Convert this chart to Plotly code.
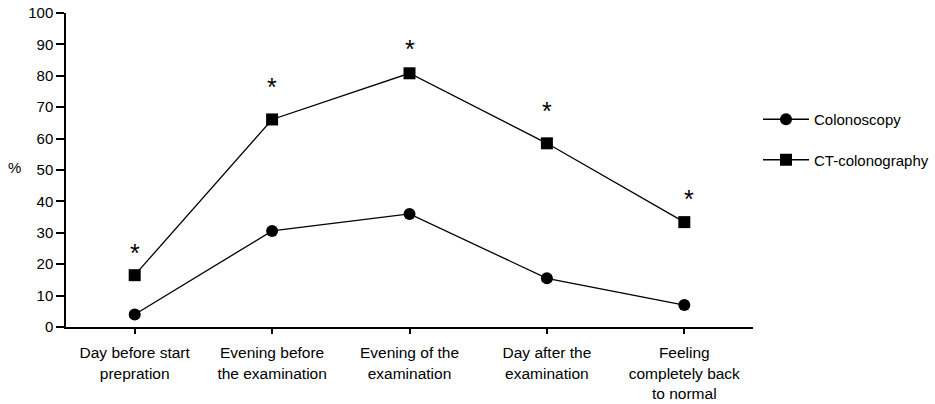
import plotly.graph_objects as go

# Time points of the questionnaire
categories = [
    "Day before start<br>prepration",
    "Evening before<br>the examination",
    "Evening of the<br>examination",
    "Day after the<br>examination",
    "Feeling<br>completely back<br>to normal",
]

# Percentage of patients per time point
colonoscopy = [4.0, 30.6, 36.0, 15.5, 7.0]
ct_colonography = [16.5, 66.1, 80.8, 58.5, 33.4]

# Significance flags shown above the CT-colonography points
significant = [True, True, True, True, True]

y_ticks = list(range(0, 101, 10))

FONT = "Liberation Sans, Arial, sans-serif"

fig = go.Figure()

fig.add_trace(go.Scatter(
    x=categories, y=colonoscopy, name="Colonoscopy",
    mode="lines+markers", legendgroup="a",
    line=dict(color="black", width=1.3),
    marker=dict(symbol="circle", size=12, color="black"),
))
fig.add_trace(go.Scatter(
    x=categories, y=ct_colonography, name="CT-colonography",
    mode="lines+markers", legendgroup="b",
    line=dict(color="black", width=1.3),
    marker=dict(symbol="square", size=12, color="black"),
))

# Asterisks placed above the CT-colonography markers
star_shift = [22, 32, 24, 32, 23]
star_xshift = [0, 0, 0, 0, 5]
for i, (cat, val, sig) in enumerate(zip(categories, ct_colonography, significant)):
    if sig:
        fig.add_annotation(
            x=cat, y=val, text="*", showarrow=False,
            yshift=star_shift[i], xshift=star_xshift[i],
            font=dict(family=FONT, size=25, color="black"),
        )

# Axis title on the left
fig.add_annotation(
    xref="paper", yref="paper", x=0, y=0.5, xshift=-52, yshift=3,
    text="%", showarrow=False, xanchor="center",
    font=dict(family=FONT, size=15, color="black"),
)

fig.update_layout(
    width=935, height=404,
    margin=dict(l=66, r=182, t=13, b=77, autoexpand=False),
    paper_bgcolor="white", plot_bgcolor="white",
    font=dict(family=FONT, size=14, color="black"),
    showlegend=True,
    legend=dict(
        xref="container", yref="container",
        x=758 / 935, y=1 - 103 / 404, xanchor="left", yanchor="top",
        font=dict(family=FONT, size=15, color="black"),
        itemwidth=46, tracegroupgap=18, traceorder="grouped",
        bgcolor="rgba(0,0,0,0)",
    ),
)

fig.update_xaxes(
    type="category", range=[-0.5, 4.5], automargin=False,
    showline=True, linecolor="black", linewidth=1.5,
    ticks="outside", ticklen=5, tickwidth=1.5, tickcolor="black",
    ticklabelstandoff=6,
    showgrid=False, zeroline=False,
    tickfont=dict(family=FONT, size=15.5, color="black"),
)
fig.update_yaxes(
    range=[0, 100], tickvals=y_ticks, automargin=False,
    showline=True, linecolor="black", linewidth=1.5,
    ticks="outside", ticklen=8, tickwidth=1.5, tickcolor="black",
    showgrid=False, zeroline=False,
    tickfont=dict(family=FONT, size=15, color="black"),
)

fig.write_html("out.html")
